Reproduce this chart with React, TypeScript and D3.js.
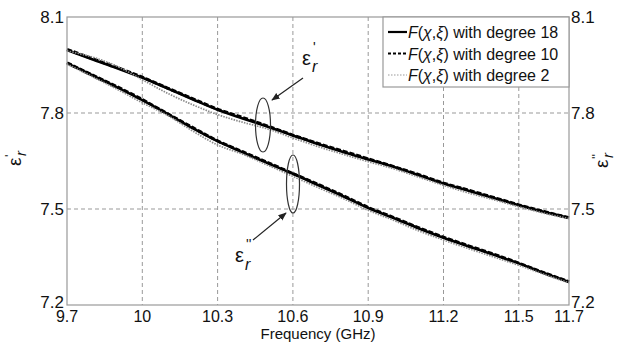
import React from "react";
import * as d3 from "d3";

const freq = [9.7, 9.8, 9.9, 10.0, 10.1, 10.2, 10.3, 10.4, 10.5, 10.6, 10.7, 10.8, 10.9, 11.0, 11.1, 11.2, 11.3, 11.4, 11.5, 11.6, 11.7];

const epsReal18 = [7.997, 7.968, 7.940, 7.910, 7.877, 7.843, 7.810, 7.783, 7.757, 7.730, 7.703, 7.678, 7.655, 7.632, 7.606, 7.580, 7.557, 7.534, 7.512, 7.491, 7.472];
const epsReal10 = [7.999, 7.970, 7.942, 7.912, 7.878, 7.845, 7.812, 7.786, 7.759, 7.731, 7.705, 7.681, 7.657, 7.633, 7.608, 7.581, 7.559, 7.536, 7.513, 7.492, 7.473];
const epsReal2 = [7.994, 7.975, 7.946, 7.904, 7.862, 7.826, 7.795, 7.771, 7.750, 7.722, 7.695, 7.671, 7.648, 7.626, 7.600, 7.574, 7.550, 7.529, 7.507, 7.487, 7.470];

const epsImag18 = [7.956, 7.918, 7.880, 7.840, 7.797, 7.753, 7.712, 7.677, 7.643, 7.610, 7.575, 7.540, 7.503, 7.472, 7.440, 7.410, 7.383, 7.357, 7.330, 7.300, 7.272];
const epsImag10 = [7.957, 7.919, 7.882, 7.842, 7.798, 7.755, 7.713, 7.679, 7.645, 7.611, 7.577, 7.542, 7.505, 7.474, 7.442, 7.412, 7.385, 7.359, 7.331, 7.301, 7.273];
const epsImag2 = [7.953, 7.914, 7.874, 7.832, 7.793, 7.744, 7.700, 7.671, 7.637, 7.602, 7.567, 7.533, 7.496, 7.465, 7.432, 7.403, 7.376, 7.350, 7.324, 7.296, 7.269];

const xTicks = [9.7, 10, 10.3, 10.6, 10.9, 11.2, 11.5, 11.7];
const yTicks = [7.2, 7.5, 7.8, 8.1];
const legendLabels = ["with degree 18", "with degree 10", "with degree 2"];

const W = 625;
const H = 342;
const M = { left: 67, right: 569, top: 17, bottom: 305 };
const FONT = "'Liberation Sans', Arial, sans-serif";

export default function App() {
  const x = d3.scaleLinear().domain([9.7, 11.7]).range([M.left, M.right]);
  const y = d3.scaleLinear().domain([7.2, 8.1]).range([M.bottom, M.top]);
  const line = (vals: number[]) =>
    d3
      .line<number>()
      .x((_, i) => x(freq[i]))
      .y((d) => y(d))
      .curve(d3.curveMonotoneX)(vals) || "";

  const series = [
    { vals: [epsReal10, epsImag10], stroke: "#000", width: 3, dash: "5,2" },
    { vals: [epsReal18, epsImag18], stroke: "#000", width: 2.6, dash: "" },
    { vals: [epsReal2, epsImag2], stroke: "#8a8a8a", width: 1.7, dash: "1.5,1.2" },
  ];

  const legendStyles = [
    { stroke: "#000", width: 2.2, dash: "" },
    { stroke: "#000", width: 2.2, dash: "3,2" },
    { stroke: "#999", width: 1.2, dash: "1.5,1.5" },
  ];

  return (
    <svg width={W} height={H} style={{ display: "block", position: "absolute", left: 0, top: 0, background: "#fff" }} fontFamily={FONT}>
      <defs>
        <marker id="arr" viewBox="0 0 10 10" refX="9" refY="5" markerWidth="7" markerHeight="7" orient="auto">
          <path d="M0,1 L10,5 L0,9 z" fill="#222" />
        </marker>
      </defs>
      <rect x={0} y={0} width={W} height={H} fill="#fff" />
      {/* grid */}
      {xTicks.slice(1, -1).map((t) => (
        <line key={"gx" + t} x1={x(t)} x2={x(t)} y1={M.top} y2={M.bottom} stroke="#999" strokeDasharray="4,3" strokeWidth={1} />
      ))}
      {yTicks.slice(1, -1).map((t) => (
        <line key={"gy" + t} x1={M.left} x2={M.right} y1={y(t)} y2={y(t)} stroke="#999" strokeDasharray="4,3" strokeWidth={1} />
      ))}
      {/* series */}
      {series.map((s, si) =>
        s.vals.map((v, vi) => (
          <path key={si + "-" + vi} d={line(v)} fill="none" stroke={s.stroke} strokeWidth={s.width} strokeDasharray={s.dash || undefined} />
        ))
      )}
      {/* frame */}
      <rect x={M.left} y={M.top} width={M.right - M.left} height={M.bottom - M.top} fill="none" stroke="#999" strokeWidth={1.2} />
      {/* ticks labels */}
      {yTicks.map((t) => (
        <g key={"yl" + t} fontSize={17} fill="#111">
          <text x={M.left - 3} y={y(t) + (t === 7.2 ? 3 : 6)} textAnchor="end">{t.toFixed(1)}</text>
          <text x={M.right + 2} y={y(t) + (t === 7.2 ? 3 : 6)} textAnchor="start">{t.toFixed(1)}</text>
        </g>
      ))}
      {xTicks.map((t) => (
        <text key={"xl" + t} x={x(t)} y={M.bottom + 17} textAnchor="middle" fontSize={16} fill="#111">
          {String(t)}
        </text>
      ))}
      <text x={(M.left + M.right) / 2} y={H - 3} textAnchor="middle" fontSize={15} fill="#111">Frequency (GHz)</text>
      {/* axis titles */}
      <g transform="translate(21,160) rotate(-90)" fontSize={19} fill="#111">
        <text x={-6} y={0}>ε</text>
        <text x={3} y={-7} fontSize={13}>'</text>
        <text x={4} y={5} fontSize={15} fontStyle="italic">r</text>
      </g>
      <g transform="translate(608,162) rotate(-90)" fontSize={19} fill="#111">
        <text x={-6} y={0}>ε</text>
        <text x={3} y={-7} fontSize={13}>''</text>
        <text x={4} y={5} fontSize={15} fontStyle="italic">r</text>
      </g>
      {/* legend */}
      <rect x={383} y={M.top} width={M.right - 383} height={70} fill="#fff" stroke="#999" strokeWidth={1.2} />
      {legendLabels.map((lab, i) => {
        const ly = 32 + i * 21.5;
        const st = legendStyles[i];
        return (
          <g key={lab}>
            <line x1={388} x2={407} y1={ly} y2={ly} stroke={st.stroke} strokeWidth={st.width} strokeDasharray={st.dash || undefined} />
            <text x={408} y={ly + 6} fontSize={16} fill="#111">
              <tspan fontStyle="italic">F</tspan>
              <tspan>(</tspan>
              <tspan fontStyle="italic">χ</tspan>
              <tspan>,</tspan>
              <tspan fontStyle="italic">ξ</tspan>
              <tspan>) {lab}</tspan>
            </text>
          </g>
        );
      })}
      {/* annotations */}
      <ellipse cx={263} cy={125} rx={7.5} ry={27} fill="none" stroke="#333" strokeWidth={1.2} />
      <line x1={303} y1={78} x2={272} y2={100} stroke="#222" strokeWidth={1.2} markerEnd="url(#arr)" />
      <g fontSize={20} fill="#111">
        <text x={302} y={65}>ε</text>
        <text x={313} y={52} fontSize={14}>'</text>
        <text x={312} y={72} fontSize={16} fontStyle="italic">r</text>
      </g>
      <ellipse cx={293} cy={184} rx={6.5} ry={29} fill="none" stroke="#333" strokeWidth={1.2} />
      <line x1={253} y1={240} x2={286} y2={213} stroke="#222" strokeWidth={1.2} markerEnd="url(#arr)" />
      <g fontSize={20} fill="#111">
        <text x={235} y={262}>ε</text>
        <text x={246} y={249} fontSize={14}>''</text>
        <text x={245} y={270} fontSize={16} fontStyle="italic">r</text>
      </g>
    </svg>
  );
}
